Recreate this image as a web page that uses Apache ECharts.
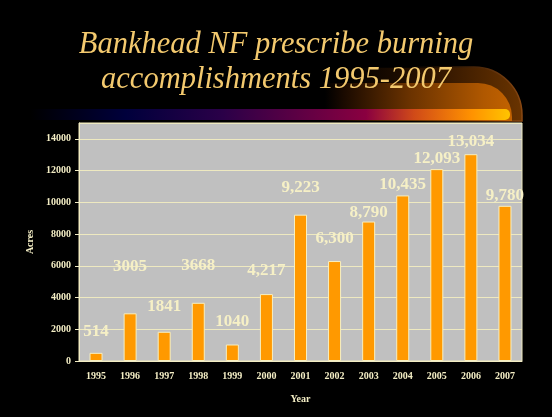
<!DOCTYPE html>
<html lang="en">
<head>
    <meta charset="UTF-8">
    <title>Bankhead NF prescribe burning</title>
    <style>
        html, body { margin: 0; padding: 0; background: #000; }
    </style>
</head>

<body>
<div id="main" style="width:552px;height:417px"></div>
<script src="https://cdn.jsdelivr.net/npm/echarts@6/dist/echarts.min.js"></script>
<script type="text/javascript">
    // chart data
    var years = ['1995', '1996', '1997', '1998', '1999', '2000', '2001', '2002', '2003', '2004', '2005', '2006', '2007'];
    var acres = [514, 3005, 1841, 3668, 1040, 4217, 9223, 6300, 8790, 10435, 12093, 13034, 9780];
    var valueLabels = ['514', '3005', '1841', '3668', '1040', '4,217', '9,223', '6,300', '8,790', '10,435', '12,093', '13,034', '9,780'];

    // how far each value label sits above its bar (slide layout was hand-placed)
    var labelGap = [13, 38, 17, 29, 14, 15, 19, 14, 0, 2, 2, 4, 2];

    var cream = '#f3edc4';
    var serif = '"Liberation Serif", "Times New Roman", serif';

    function hGrad(stops) {
        return {
            type: 'linear', x: 0, y: 0, x2: 1, y2: 0,
            colorStops: stops.map(function (s) { return { offset: s[0], color: s[1] }; })
        };
    }

    var chartDom = document.getElementById('main');
    var myChart = echarts.init(chartDom);

    var barData = acres.map(function (v, i) {
        return {
            value: v,
            label: { distance: labelGap[i], formatter: valueLabels[i] }
        };
    });

    var option = {
        backgroundColor: '#000000',
        animation: false,
        title: {
            text: 'Bankhead NF prescribe burning\naccomplishments 1995-2007',
            left: 'center',
            top: 22,
            textStyle: {
                color: '#f3c96e',
                fontFamily: serif,
                fontStyle: 'italic',
                fontWeight: 'normal',
                fontSize: 30.5,
                lineHeight: 35
            }
        },
        graphic: [
            {
                // orange swoosh behind the title: outer halo
                type: 'rect',
                z: -10,
                shape: { x: 300, y: 67, width: 222, height: 54, r: [0, 48, 0, 0] },
                style: {
                    fill: hGrad([[0, '#000000'], [0.2, '#000000'], [0.6, '#2e1400'], [1, '#6a3400']]),
                    stroke: hGrad([[0, '#000000'], [0.5, '#000000'], [0.8, '#4a2608'], [1, '#8a4812']]),
                    lineWidth: 1.5
                }
            },
            {
                // swoosh body
                type: 'rect',
                z: -9,
                shape: { x: 325, y: 83, width: 187, height: 38, r: [0, 34, 0, 0] },
                style: {
                    fill: hGrad([[0, '#000000'], [0.1, '#1a0a00'], [0.45, '#6a3200'], [0.85, '#b05800'], [1, '#c26200']])
                }
            },
            {
                // colour band under the title
                type: 'rect',
                z: -5,
                shape: { x: 30, y: 109, width: 480, height: 11, r: [0, 5, 5, 0] },
                style: {
                    fill: hGrad([[0, '#000000'], [0.2, '#00003c'], [0.4, '#2a0048'], [0.7, '#8a0040'],
                        [0.8, '#d04a18'], [0.92, '#ff9200'], [1, '#ffc400']])
                }
            }
        ],
        grid: {
            left: 79,
            right: 30,
            top: 123,
            bottom: 56,
            show: true,
            backgroundColor: '#c0c0c0',
            borderColor: '#eee9c0',
            borderWidth: 1
        },
        xAxis: {
            type: 'category',
            data: years,
            name: 'Year',
            nameLocation: 'middle',
            nameGap: 33,
            nameTextStyle: { color: cream, fontFamily: serif, fontWeight: 'bold', fontSize: 10 },
            axisLine: { lineStyle: { color: cream } },
            axisTick: { length: 4, lineStyle: { color: cream } },
            axisLabel: { color: cream, fontFamily: serif, fontWeight: 'bold', fontSize: 10, margin: 10 }
        },
        yAxis: {
            type: 'value',
            min: 0,
            max: 15000,
            interval: 2000,
            name: 'Acres',
            nameLocation: 'middle',
            nameGap: 38,
            nameTextStyle: { color: cream, fontFamily: serif, fontWeight: 'bold', fontSize: 10 },
            axisLine: { show: true, lineStyle: { color: cream } },
            axisTick: { show: true, length: 4, lineStyle: { color: cream } },
            axisLabel: {
                color: cream, fontFamily: serif, fontWeight: 'bold', fontSize: 10, margin: 8,
                showMaxLabel: false,
                formatter: function (v) { return String(v); }
            },
            splitLine: { lineStyle: { color: '#eee9c0', width: 1 } }
        },
        series: [
            {
                name: 'Acres',
                type: 'bar',
                data: barData,
                barWidth: 13,
                itemStyle: {
                    color: '#ff9900',
                    borderColor: '#f7efc0',
                    borderWidth: 1
                },
                label: {
                    show: true,
                    position: 'top',
                    color: '#f6f0c6',
                    fontFamily: serif,
                    fontWeight: 'bold',
                    fontSize: 17
                }
            }
        ]
    };

    option && myChart.setOption(option);
</script>
</body>
</html>
